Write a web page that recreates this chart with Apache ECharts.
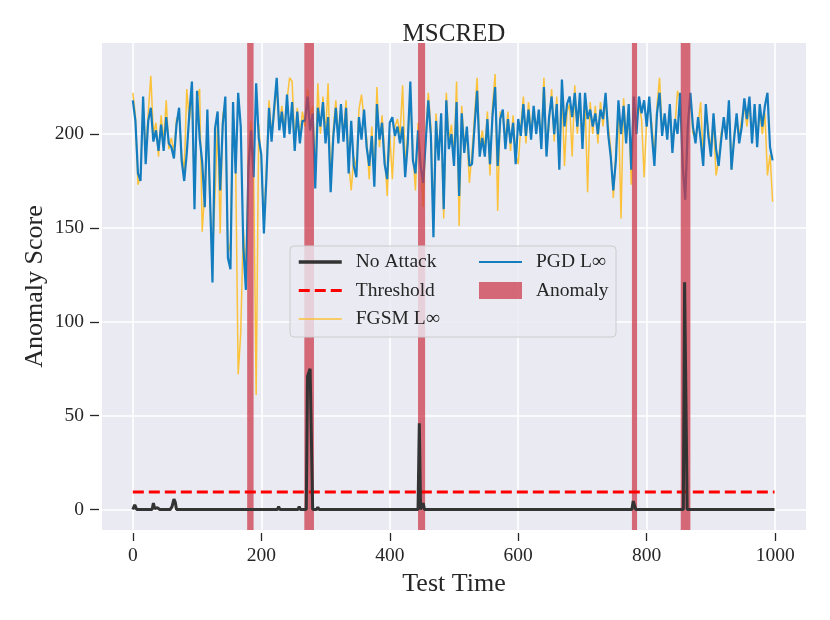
<!DOCTYPE html>
<html><head><meta charset="utf-8">
<script src="https://cdn.jsdelivr.net/npm/echarts@6/dist/echarts.min.js"></script>
<style>html,body{margin:0;padding:0;background:#fff}#c{width:830px;height:620px}</style>
</head><body><div id="c"></div>
<script>
const xTicks = [0, 200, 400, 600, 800, 1000];
const yTicks = [0, 50, 100, 150, 200];
const sampleStep = 4; // test-time spacing of the sampled score arrays below

const pgdScore = [
218,207,179,175,220,184,207,214,196,202,
191,205,191,209,195,193,187,205,214,186,
175,190,211,228,160,223,198,185,161,213,
168,121,203,212,170,205,220,134,128,217,
179,222,204,140,117,182,202,177,227,198,
189,147,177,214,196,214,230,202,212,198,
221,200,217,191,212,195,207,207,220,202,
211,171,214,204,217,195,209,169,198,214,
195,216,196,214,179,207,183,177,209,197,
213,193,183,199,172,216,197,206,184,176,
206,209,199,204,195,204,177,195,228,186,
179,202,183,174,196,218,199,145,207,186,
211,160,218,192,200,183,217,167,211,190,
204,183,184,204,223,188,198,188,208,184,
210,225,183,208,213,192,208,195,206,184,
208,199,216,199,213,197,215,200,213,192,
225,188,209,220,200,216,181,229,204,216,
220,209,222,204,222,192,222,208,213,204,
211,200,213,208,222,200,188,170,186,218,
200,215,195,216,181,220,200,220,211,218,
204,220,200,183,211,222,199,211,197,216,
190,208,200,222,183,165,204,222,204,195,
209,197,183,216,199,188,211,192,183,197,
209,197,218,181,197,211,195,204,219,208,
220,195,216,193,216,204,215,222,193,186
];

const fgsmScore = [
222,210,173,178,216,190,211,231,200,206,
188,210,196,218,192,198,190,208,210,190,
180,224,207,222,166,219,224,148,170,208,
164,135,168,206,147,210,216,136,142,212,
186,72,94,150,125,188,207,182,61,205,
185,152,182,218,200,210,225,205,215,203,
218,230,228,195,214,198,212,204,224,210,
215,178,227,200,220,199,227,175,202,218,
200,212,201,218,185,170,188,182,213,221,
208,198,176,204,178,225,193,210,190,167,
200,176,204,208,200,226,183,200,222,190,
170,206,188,161,200,222,204,152,211,190,
206,155,222,197,205,188,228,151,215,195,
200,174,190,210,230,193,202,192,212,178,
215,232,159,212,209,197,212,191,210,189,
184,204,220,195,217,202,211,205,209,197,
230,192,205,224,196,220,186,225,183,212,
216,188,226,200,218,196,218,169,217,200,
215,195,217,204,218,205,192,166,190,214,
155,219,199,212,173,216,204,216,208,177,
208,216,205,188,215,230,203,207,200,212,
195,204,223,218,188,165,208,218,200,199,
205,217,187,212,203,192,207,178,186,201,
205,200,214,181,200,207,199,208,215,204,
216,199,212,197,212,200,211,178,189,164
];

const noAttackTime = [0,3,6, 30,32,34,38,42, 58,61,64,66,68, 85,87,89, 111,113,115, 143,145,147,
  200,202,204, 225,227,229, 257,259,261, 270,272,274,276,278,280, 286,288,290, 341,343,345,
  444,446,448,450,452,454, 517,519,521, 777,779,781,783, 857,859,861,863, 906,908,910, 935,937,939, 999];
const noAttackScore = [0,2.5,0, 0,3.5,0.5,1,0, 0,1.5,5.5,4,0, 0,1,0, 0,1,0, 0,1,0,
  0,1,0, 0,1.5,0, 0,1.5,0, 0,71,72,75,74,0, 0,1.2,0, 0,1,0,
  0,46,0,0,3.5,0, 0,1,0, 0,4.5,4.5,0, 0,121,121,0, 0,1,0, 0,1,0, 0];

const thresholdValue = 9.3;
const thresholdSpan = [0, 999];

const anomalyStart = [178, 267, 444, 777, 853];
const anomalyEnd = [188, 282, 455, 785, 868];

const xMin = -48, xMax = 1048, yMin = -10.9, yMax = 248.5;
const FONT = "'Liberation Serif','DejaVu Serif',serif";
const TXT = '#262626';
const BAND = 'rgba(204,54,70,0.72)';

const legendText = {fontSize: 19.5, fontFamily: FONT, color: TXT, padding: [0, 0, 0, 9]};

const chart = echarts.init(document.getElementById('c'), null, {renderer: 'canvas'});
chart.setOption({
  animation: false,
  backgroundColor: '#ffffff',
  title: {
    text: 'MSCRED', left: 449, top: 17, textAlign: 'center',
    textStyle: {fontSize: 25, fontWeight: 'normal', fontFamily: FONT, color: TXT}
  },
  grid: {left: 102, right: 24, top: 43, bottom: 90, show: true, backgroundColor: '#eaeaf2', borderWidth: 0,
         containLabel: false, outerBoundsMode: 'none'},
  xAxis: {
    type: 'value', min: xMin, max: xMax, offset: 3,
    axisLine: {show: false, onZero: false},
    axisTick: {show: true, customValues: xTicks, length: 8, lineStyle: {color: TXT, width: 1.3}},
    axisLabel: {customValues: xTicks, margin: 13, fontSize: 19.5, fontFamily: FONT, color: TXT,
                formatter: v => String(v)},
    splitLine: {show: true, customValues: xTicks, lineStyle: {color: '#ffffff', width: 1.6}},
    name: 'Test Time', nameLocation: 'middle', nameGap: 37,
    nameTextStyle: {fontSize: 26, fontFamily: FONT, color: TXT}
  },
  yAxis: {
    type: 'value', min: yMin, max: yMax, offset: 3,
    axisLine: {show: false, onZero: false},
    axisTick: {show: true, customValues: yTicks, length: 9, lineStyle: {color: TXT, width: 1.3}},
    axisLabel: {customValues: yTicks, margin: 15, fontSize: 19.5, fontFamily: FONT, color: TXT,
                formatter: v => String(v)},
    splitLine: {show: true, customValues: yTicks, lineStyle: {color: '#ffffff', width: 1.6}},
    name: 'Anomaly Score', nameLocation: 'middle', nameGap: 51, nameMoveOverlap: false,
    nameTextStyle: {fontSize: 26, fontFamily: FONT, color: TXT}
  },
  legend: [
    {data: [
       {name: 'No Attack', lineStyle: {width: 3.5}},
       {name: 'Threshold', lineStyle: {width: 3}},
       {name: 'FGSM L∞', lineStyle: {width: 1.5}}
     ], orient: 'vertical', left: 297, top: 252, padding: 0,
     itemWidth: 43, itemHeight: 14, itemGap: 8.5, selectedMode: false, z: 30,
     itemStyle: {opacity: 0}, textStyle: legendText},
    {data: [
       {name: 'PGD L∞', lineStyle: {width: 2}},
       {name: 'Anomaly', icon: 'rect', itemStyle: {opacity: 1, color: BAND}}
     ], orient: 'vertical', left: 478, top: 252, padding: 0,
     itemWidth: 43, itemHeight: 17, itemGap: 8.5, selectedMode: false, z: 30,
     itemStyle: {opacity: 0}, textStyle: legendText}
  ],
  graphic: [{
    type: 'rect', z: 20, silent: true,
    shape: {x: 290, y: 246, width: 326, height: 91, r: 4},
    style: {fill: 'rgba(234,234,242,0.8)', stroke: '#cccccc', lineWidth: 1}
  }],
  series: [
    {name: 'FGSM L∞', type: 'line', z: 2, symbol: 'none', silent: true,
     data: fgsmScore.map((v, i) => [i * sampleStep, v]),
     lineStyle: {width: 1.5, color: '#fbc23a'}, itemStyle: {color: '#fbc23a'}},
    {name: 'PGD L∞', type: 'line', z: 3, symbol: 'none', silent: true,
     data: pgdScore.map((v, i) => [i * sampleStep, v]),
     lineStyle: {width: 2.2, color: '#137dc0'}, itemStyle: {color: '#137dc0'}},
    {name: 'Anomaly', type: 'custom', z: 4, silent: true,
     itemStyle: {color: BAND},
     data: anomalyStart.map((s, i) => [s, anomalyEnd[i]]),
     encode: {x: [0, 1]},
     renderItem: function (params, api) {
       const a = api.coord([api.value(0), yMax]);
       const b = api.coord([api.value(1), yMin]);
       return {type: 'rect', shape: {x: a[0], y: a[1], width: b[0] - a[0], height: b[1] - a[1]},
               style: {fill: BAND}};
     }},
    {name: 'Threshold', type: 'line', z: 5, symbol: 'none', silent: true,
     data: thresholdSpan.map(t => [t, thresholdValue]),
     lineStyle: {width: 3, color: '#ff0000', type: [11, 5]}, itemStyle: {color: '#ff0000'}},
    {name: 'No Attack', type: 'line', z: 6, symbol: 'none', silent: true,
     data: noAttackTime.map((t, i) => [t, noAttackScore[i]]),
     lineStyle: {width: 3, color: '#333333'}, itemStyle: {color: '#333333'}}
  ]
});
</script></body></html>
